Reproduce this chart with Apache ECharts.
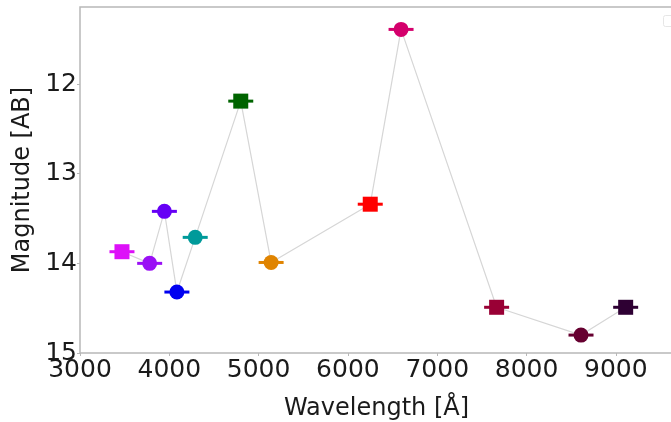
<!DOCTYPE html>
<html>
<head>
<meta charset="utf-8">
<script src="https://cdn.jsdelivr.net/npm/echarts@6/dist/echarts.min.js"></script>
<style>
  html, body { margin: 0; padding: 0; background: #fff; }
  #chart { width: 671px; height: 422px; }
</style>
</head>
<body>
<div id="chart"></div>
<script>
// filter points, in the order the grey line joins them
var wavelength = [3470, 3780, 3945, 4085, 4290, 4800, 5140, 6250, 6595, 7665, 8610, 9110];
var magnitude  = [13.87, 14.00, 13.42, 14.32, 13.71, 12.19, 13.99, 13.34, 11.39, 14.49, 14.80, 14.49];
var shapes     = ['rect', 'circle', 'circle', 'circle', 'circle', 'rect', 'circle', 'rect', 'circle', 'rect', 'circle', 'rect'];
var colors     = ['#dd10f8', '#9a10f5', '#6600f5', '#0000f0', '#009a9a', '#006400', '#e08400',
                  '#ff0000', '#d4006c', '#990035', '#660030', '#2e0033'];
var xTicks = [3000, 4000, 5000, 6000, 7000, 8000, 9000];
var yTicks = [12, 13, 14, 15];

var font = 'DejaVu Sans';

var pts = [], bars = [];
for (var i = 0; i < wavelength.length; i++) {
    pts.push({ value: [wavelength[i], magnitude[i]], symbol: shapes[i], itemStyle: { color: colors[i] } });
    bars.push({ value: [wavelength[i], magnitude[i]], itemStyle: { color: colors[i] } });
}

var myChart = echarts.init(document.getElementById('chart'));
myChart.setOption({
    animation: false,
    grid: {
        left: 80, top: 7, right: -2, bottom: 69,
        outerBoundsMode: 'none', containLabel: false,
        show: true, borderColor: '#b8b8b8', borderWidth: 1.5
    },
    xAxis: {
        type: 'value', min: 3000, max: 9640, interval: 1000,
        name: 'Wavelength [Å]', nameLocation: 'middle', nameGap: 44,
        nameTextStyle: { fontFamily: font, fontSize: 24, color: '#1a1a1a' },
        axisLine: { show: false },
        axisTick: { show: true, length: 3, lineStyle: { color: '#b8b8b8' }, customValues: xTicks },
        axisLabel: {
            fontFamily: font, fontSize: 25, color: '#1a1a1a', margin: 5, customValues: xTicks,
            formatter: function (v) { return String(v); }
        },
        splitLine: { show: false }
    },
    yAxis: {
        type: 'value', min: 11.14, max: 15, inverse: true,
        name: 'Magnitude [AB]', nameLocation: 'middle', nameGap: 34,
        nameTextStyle: { fontFamily: font, fontSize: 24, color: '#1a1a1a' },
        axisLine: { show: false },
        axisTick: { show: true, length: 3, lineStyle: { color: '#b8b8b8' }, customValues: yTicks },
        axisLabel: { fontFamily: font, fontSize: 25, color: '#1a1a1a', margin: 3, customValues: yTicks },
        splitLine: { show: false }
    },
    graphic: [{
        type: 'rect', left: 663, top: 15,
        shape: { width: 12, height: 11, r: 2 },
        style: { fill: '#fff', stroke: '#e6e6e6', lineWidth: 1 }
    }],
    series: [
        {
            type: 'line',
            data: wavelength.map(function (w, i) { return [w, magnitude[i]]; }),
            showSymbol: false,
            lineStyle: { color: '#d6d6d6', width: 1.2 },
            z: 1
        },
        {
            type: 'scatter',
            data: bars,
            symbol: 'rect',
            symbolSize: [25, 3],
            itemStyle: { opacity: 1 },
            z: 2
        },
        {
            type: 'scatter',
            data: pts,
            symbolSize: 15,
            itemStyle: { opacity: 1 },
            z: 3
        }
    ]
});
</script>
</body>
</html>
